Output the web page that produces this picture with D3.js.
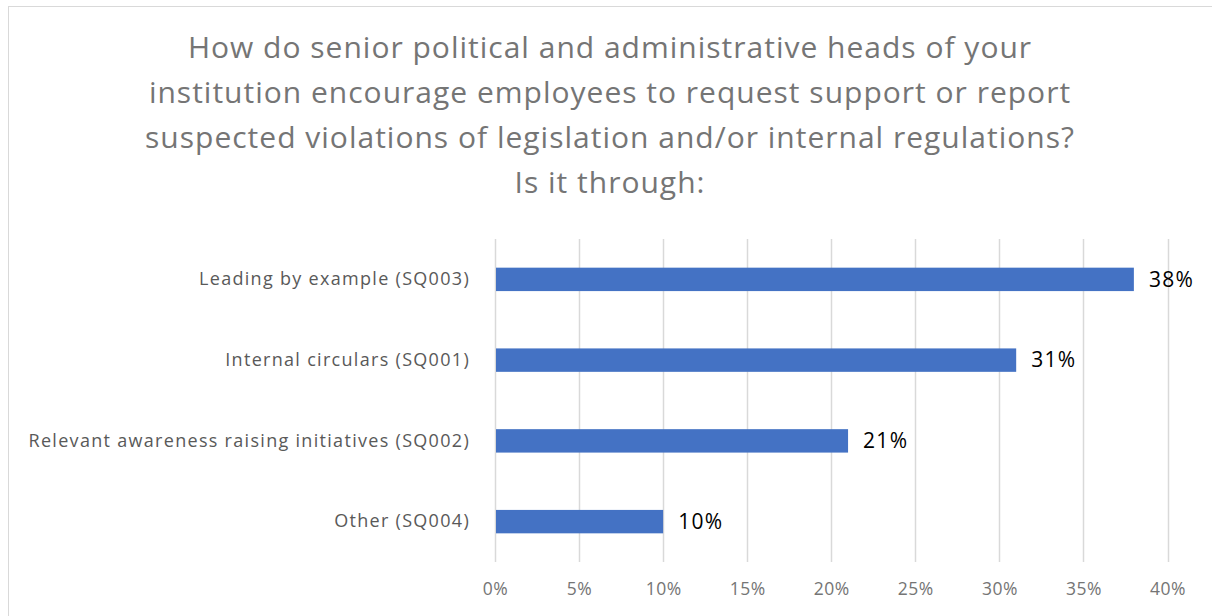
<!DOCTYPE html>
<html>
<head>
<meta charset="utf-8">
<script src="https://cdn.jsdelivr.net/npm/d3@7"></script>
<style>
  body { margin: 0; background: #fff; }
  svg { display: block; }
  text { font-family: "Open Sans", sans-serif; }
</style>
</head>
<body>
<div id="chart"></div>
<script>
var categories = ['Leading by example (SQ003)', 'Internal circulars (SQ001)',
                  'Relevant awareness raising initiatives (SQ002)', 'Other (SQ004)'];
var values = [0.38, 0.31, 0.21, 0.10];
var ticks = [0, 0.05, 0.10, 0.15, 0.20, 0.25, 0.30, 0.35, 0.40];
var titleLines = ['How do senior political and administrative heads of your',
                  'institution encourage employees to request support or report',
                  'suspected violations of legislation and/or internal regulations?',
                  'Is it through:'];

var width = 1212, height = 616;
var margin = {top: 239, right: 45, bottom: 54, left: 495};

var svg = d3.select('#chart').append('svg')
    .attr('width', width)
    .attr('height', height);

// chart frame
svg.append('rect')
    .attr('x', 8.5).attr('y', 6.5)
    .attr('width', width).attr('height', height)
    .style('fill', 'none')
    .style('stroke', '#d9d9d9');

var title = svg.append('text')
    .attr('text-anchor', 'middle')
    .style('font-size', '30px')
    .style('letter-spacing', '1px')
    .style('fill', '#757575');
title.selectAll('tspan').data(titleLines).enter().append('tspan')
    .attr('x', 610)
    .attr('y', function(d, i) { return 58 + i * 45; })
    .text(function(d) { return d; });

var x = d3.scaleLinear().domain([0, 0.40]).range([margin.left, width - margin.right + 0.5]);
var y = d3.scaleBand().domain(categories)
    .range([margin.top, height - margin.bottom])
    .paddingInner(0.71).paddingOuter(0.355);

var grid = svg.append('g');
grid.selectAll('line').data(ticks).enter().append('line')
    .attr('x1', function(d) { return Math.round(x(d)) + 0.5; })
    .attr('x2', function(d) { return Math.round(x(d)) + 0.5; })
    .attr('y1', margin.top)
    .attr('y2', height - margin.bottom)
    .style('stroke', '#d9d9d9')
    .style('stroke-width', 1.5);

var xAxis = svg.append('g')
    .attr('transform', 'translate(0,' + (height - margin.bottom) + ')')
    .call(d3.axisBottom(x).tickValues(ticks).tickFormat(d3.format('.0%')).tickSize(0).tickPadding(21));
xAxis.select('.domain').remove();
xAxis.selectAll('text')
    .style('font-family', '"Open Sans", sans-serif')
    .style('font-size', '17.5px')
    .style('letter-spacing', '0.5px')
    .style('fill', '#757575');

var yAxis = svg.append('g')
    .attr('transform', 'translate(' + margin.left + ',0)')
    .call(d3.axisLeft(y).tickSize(0).tickPadding(25));
yAxis.select('.domain').remove();
yAxis.selectAll('text')
    .style('font-family', '"Open Sans", sans-serif')
    .style('font-size', '18px')
    .style('letter-spacing', '1.3px')
    .style('fill', '#595959');

svg.append('g').selectAll('rect').data(values).enter().append('rect')
    .attr('x', x(0) + 1)
    .attr('y', function(d, i) { return y(categories[i]); })
    .attr('width', function(d) { return x(d) - x(0) - 1; })
    .attr('height', y.bandwidth())
    .style('fill', '#4472c4');

svg.append('g').selectAll('text').data(values).enter().append('text')
    .attr('x', function(d) { return x(d) + 15; })
    .attr('y', function(d, i) { return y(categories[i]) + y.bandwidth() / 2; })
    .attr('dy', '0.35em')
    .style('font-size', '21px')
    .style('letter-spacing', '1.3px')
    .style('fill', '#000')
    .text(function(d) { return d3.format('.0%')(d); });
</script>
</body>
</html>
